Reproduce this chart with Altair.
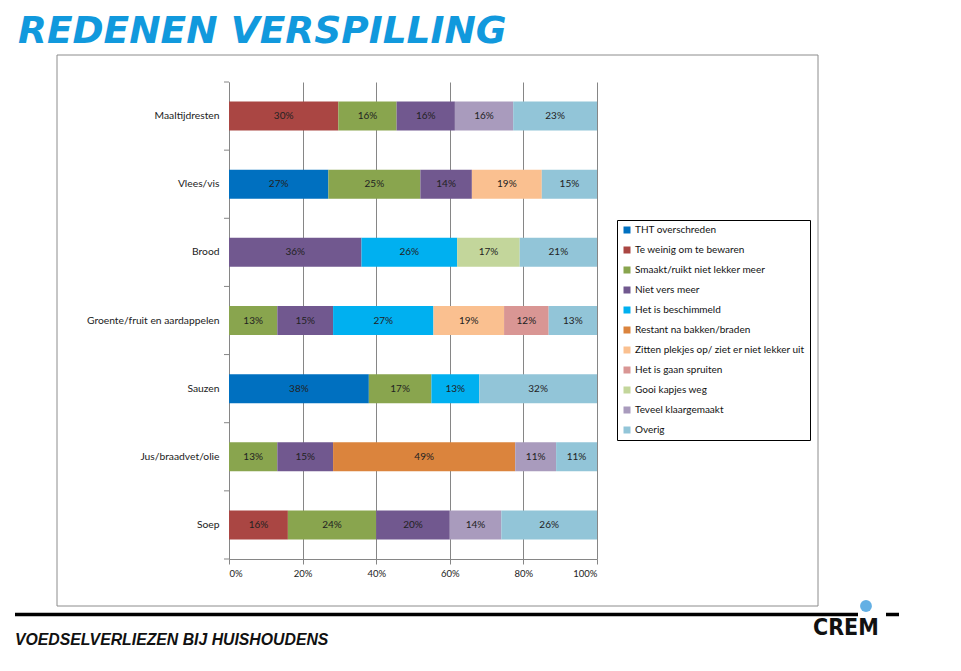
import altair as alt
import pandas as pd

categories = ["Maaltijdresten", "Vlees/vis", "Brood", "Groente/fruit en aardappelen",
              "Sauzen", "Jus/braadvet/olie", "Soep"]
reasons = ["THT overschreden", "Te weinig om te bewaren", "Smaakt/ruikt niet lekker meer",
           "Niet vers meer", "Het is beschimmeld", "Restant na bakken/braden",
           "Zitten plekjes op/ ziet er niet lekker uit", "Het is gaan spruiten",
           "Gooi kapjes weg", "Teveel klaargemaakt", "Overig"]
colors = ["#0070C0", "#AA4643", "#89A54E", "#71588F", "#00B0F0", "#DB843D",
          "#FAC090", "#D99694", "#C3D69B", "#A99BBD", "#92C5D8"]

# percentages per reason, aligned with categories (0 = not present)
tht = [0, 27, 0, 0, 38, 0, 0]
te_weinig = [30, 0, 0, 0, 0, 0, 16]
smaakt = [16, 25, 0, 13, 17, 13, 24]
niet_vers = [16, 14, 36, 15, 0, 15, 20]
beschimmeld = [0, 0, 26, 27, 13, 0, 0]
restant = [0, 0, 0, 0, 0, 49, 0]
plekjes = [0, 19, 0, 19, 0, 0, 0]
spruiten = [0, 0, 0, 12, 0, 0, 0]
kapjes = [0, 0, 17, 0, 0, 0, 0]
teveel = [16, 0, 0, 0, 0, 11, 14]
overig = [23, 15, 21, 13, 32, 11, 26]

title_text = ["REDENEN VERSPILLING"]
footer_text = ["VOEDSELVERLIEZEN BIJ HUISHOUDENS"]
logo_text = ["CREM"]

series = [tht, te_weinig, smaakt, niet_vers, beschimmeld, restant, plekjes,
          spruiten, kapjes, teveel, overig]
rows = []
for ri, (reason, vals) in enumerate(zip(reasons, series)):
    for ci, cat in enumerate(categories):
        if vals[ci] > 0:
            rows.append({"category": cat, "reason": reason, "value": vals[ci], "order": ri})
df = pd.DataFrame(rows)

FONT = "Lato"
GRAY = "#868686"

base = (
    alt.Chart(df)
    .transform_joinaggregate(total="sum(value)", groupby=["category"])
    .transform_window(cum="sum(value)", sort=[alt.SortField("order")],
                      groupby=["category"], frame=[None, 0])
    .transform_calculate(
        start="(datum.cum - datum.value) / datum.total",
        end="datum.cum / datum.total",
        mid="(datum.cum - datum.value / 2) / datum.total",
        label="datum.value + '%'",
    )
)

yenc = alt.Y("category:N", sort=categories,
             scale=alt.Scale(paddingInner=0, paddingOuter=0),
             axis=alt.Axis(title=None, ticks=False, labelPadding=10, labelFont=FONT,
                           labelFontSize=10.3, labelColor="#222", domainColor=GRAY,
                           labelLimit=300))

bars = base.mark_bar(height=29).encode(
    y=yenc,
    x=alt.X("start:Q", scale=alt.Scale(domain=[0, 1], nice=False),
            axis=alt.Axis(title=None, format=".0%", values=[0, 0.2, 0.4, 0.6, 0.8, 1.0],
                          grid=True, gridColor=GRAY, domainColor=GRAY, tickColor=GRAY,
                          tickSize=5, labelFont=FONT, labelFontSize=9.5,
                          labelColor="#222", labelPadding=4)),
    x2="end:Q",
    color=alt.Color("reason:N", scale=alt.Scale(domain=reasons, range=colors),
                    legend=alt.Legend(orient="none", legendX=388, legendY=138, title=None,
                                      symbolType="square", symbolSize=49,
                                      symbolStrokeWidth=0, labelFont=FONT,
                                      labelFontSize=10, labelColor="#111",
                                      labelOffset=3, rowPadding=10,
                                      strokeColor="black", padding=5,
                                      labelLimit=300)),
)

labels = base.mark_text(font=FONT, fontSize=10, color="#222").encode(
    y=alt.Y("category:N", sort=categories),
    x=alt.X("mid:Q"),
    text="label:N",
)

ticks = alt.Chart(pd.DataFrame({"category": categories})).mark_rule(color=GRAY).encode(
    y=alt.Y("category:N", sort=categories, bandPosition=0),
    x=alt.value(-5), x2=alt.value(0),
)
bottom_tick = alt.Chart(pd.DataFrame({"a": [0]})).mark_rule(color=GRAY).encode(
    y=alt.value(477), x=alt.value(-5), x2=alt.value(0))

frame = alt.Chart(pd.DataFrame({"a": [0]})).mark_rect(
    fillOpacity=0, stroke="#8c8c8c", strokeWidth=1).encode(
    x=alt.value(-172), x2=alt.value(589), y=alt.value(-27), y2=alt.value(524))

title = alt.Chart(pd.DataFrame({"t": title_text})).mark_text(
    font="DejaVu Sans", fontSize=37.5, fontWeight="bold", fontStyle="italic",
    color="#1199DD", align="left", baseline="alphabetic").encode(
    x=alt.value(-211), y=alt.value(-39), text="t:N")

footer_line = alt.Chart(pd.DataFrame({"a": [0]})).mark_rule(
    color="black", strokeWidth=3.5).encode(
    x=alt.value(-214), x2=alt.value(629), y=alt.value(532.5))
footer_dash = alt.Chart(pd.DataFrame({"a": [0]})).mark_rule(
    color="black", strokeWidth=3.5).encode(
    x=alt.value(657), x2=alt.value(670), y=alt.value(532.5))

footer = alt.Chart(pd.DataFrame({"t": footer_text})).mark_text(
    font="Liberation Sans", fontSize=15.8, fontStyle="italic", fontWeight="bold",
    color="#111", align="left", baseline="alphabetic").encode(
    x=alt.value(-214), y=alt.value(563), text="t:N")

logo = alt.Chart(pd.DataFrame({"t": logo_text})).mark_text(
    font="DejaVu Sans Condensed, Liberation Sans", fontSize=23, fontWeight="bold",
    color="#111", align="left", baseline="alphabetic").encode(
    x=alt.value(584), y=alt.value(553), text="t:N")
globe = alt.Chart(pd.DataFrame({"a": [0]})).mark_point(
    filled=True, color="#64B0E4", size=140, opacity=1).encode(
    x=alt.value(637), y=alt.value(524))

chart = alt.layer(
    frame, bars, labels, ticks, bottom_tick, title, footer_line, footer_dash,
    footer, globe, logo,
).properties(
    width=368, height=477,
    padding={"left": 221, "top": 74, "right": 354, "bottom": 99},
    autosize=alt.AutoSizeParams(type="none"),
    background="white",
).configure_view(stroke=None)

chart.save("out.html", embed_options={"renderer": "svg", "actions": False})
